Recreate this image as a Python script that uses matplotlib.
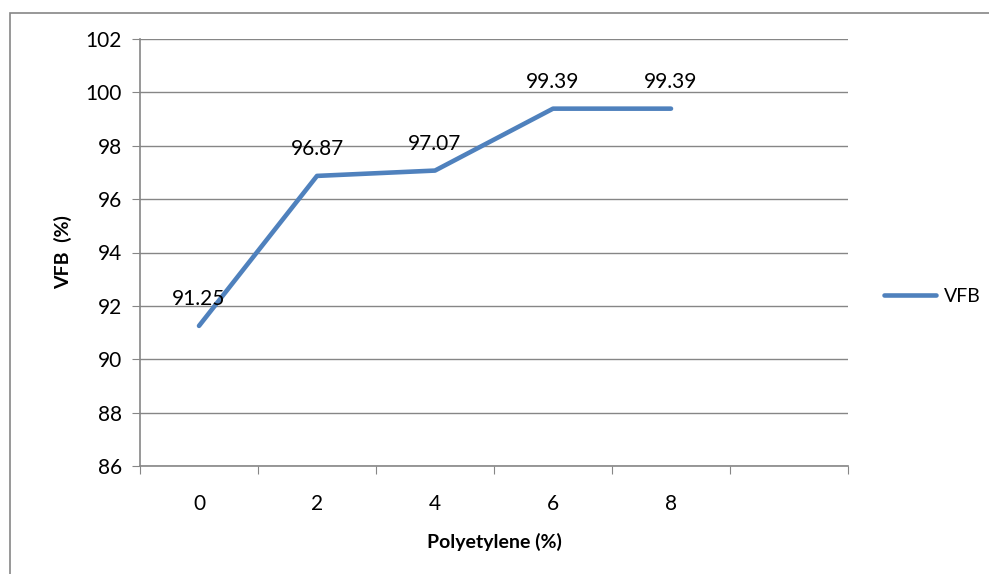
import matplotlib.pyplot as plt
from matplotlib.patches import Rectangle

# data
categories = ['0', '2', '4', '6', '8']
vfb_values = [91.25, 96.87, 97.07, 99.39, 99.39]
y_ticks = [86, 88, 90, 92, 94, 96, 98, 100, 102]

plt.rcParams['font.family'] = ['Lato', 'DejaVu Sans']

fig = plt.figure(figsize=(9.89, 5.74), dpi=100)
ax = fig.add_axes([140/989, 1 - 466/574, 708/989, 427/574])

# outer chart frame (Excel style)
fig.patches.append(Rectangle((10/989, -0.1), 1.2, (574 - 13)/574 + 0.1,
                             transform=fig.transFigure, fill=False,
                             edgecolor='#868686', linewidth=1.2))

grid_col = '#868686'
x = list(range(len(categories)))
ax.plot(x, vfb_values, color='#4F81BD', linewidth=3.3, solid_capstyle='round',
        label='VFB', zorder=3)

for xi, v in zip(x, vfb_values):
    ax.annotate(f'{v:.2f}', (xi, v), xytext=(0, 12), textcoords='offset points',
                ha='center', va='bottom', fontsize=15, color='black')

ax.set_ylim(86, 102)
ax.set_yticks(y_ticks)
ax.set_xlim(-0.5, 5.5)
ax.set_xticks([i - 0.5 for i in range(7)], minor=False)
ax.set_xticklabels([])
ax.set_xticks(x, minor=True)
ax.set_xticklabels(categories, minor=True)

ax.yaxis.grid(True, color=grid_col, linewidth=1)
ax.set_axisbelow(True)
for s in ['top', 'right']:
    ax.spines[s].set_visible(False)
for s in ['left', 'bottom']:
    ax.spines[s].set_color(grid_col)
    ax.spines[s].set_linewidth(1.2)

ax.tick_params(axis='y', which='major', length=6, color=grid_col,
               labelsize=15, pad=7)
ax.tick_params(axis='x', which='major', length=6, color=grid_col)
ax.tick_params(axis='x', which='minor', length=0, labelsize=15, pad=20)

ax.set_ylabel('VFB  (%)', fontsize=14, fontweight='bold', labelpad=10)
ax.set_xlabel('Polyetylene (%)', fontsize=14, fontweight='bold', labelpad=14)

fig.legend(loc='center left', bbox_to_anchor=(866/989, 1 - 296/574),
           frameon=False, fontsize=14, handlelength=2.7, handletextpad=0.4)

fig.savefig('out.png', dpi=100)
